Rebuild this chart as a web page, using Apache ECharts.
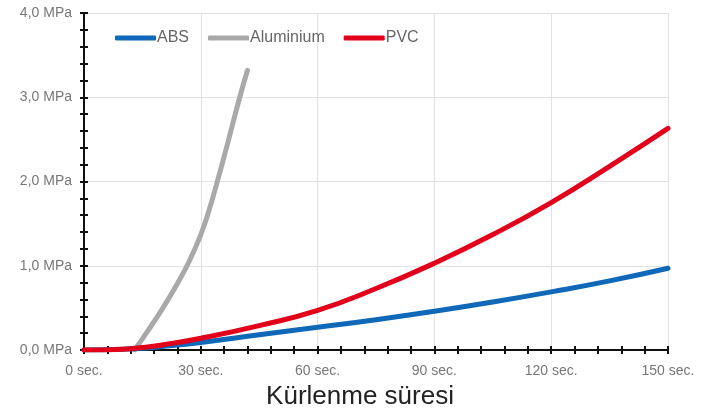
<!DOCTYPE html>
<html>
<head>
<meta charset="utf-8">
<script src="https://cdn.jsdelivr.net/npm/echarts@6/dist/echarts.min.js"></script>
<style>
  html, body { margin: 0; padding: 0; background: #fff; }
  #chart { width: 714px; height: 414px; }
</style>
</head>
<body>
<div id="chart"></div>
<script>
// seconds / MPa
const absTime = [0, 10, 15, 20, 30, 45, 60, 75, 90, 105, 120, 135, 150];
const absMpa = [0, 0.01, 0.02, 0.04, 0.09, 0.18, 0.27, 0.36, 0.46, 0.57, 0.69, 0.82, 0.97];

const aluTime = [13, 16, 20, 24, 27, 30, 32, 34, 37, 40, 42];
const aluMpa = [0, 0.2, 0.48, 0.79, 1.05, 1.37, 1.64, 1.96, 2.47, 3.0, 3.32];

const pvcTime = [0, 10, 15, 20, 30, 45, 60, 75, 90, 105, 120, 135, 150];
const pvcMpa = [0, 0.01, 0.03, 0.06, 0.14, 0.29, 0.47, 0.73, 1.03, 1.37, 1.75, 2.18, 2.63];

const seriesNames = ['ABS', 'Aluminium', 'PVC'];
const xTitle = 'Kürlenme süresi';

const pairs = (xs, ys) => xs.map((x, i) => [x, ys[i]]);

const chart = echarts.init(document.getElementById('chart'));

const font = '"Liberation Sans", Arial, sans-serif';
const tickLine = { color: '#111', width: 2 };

const baseY = {
  type: 'value',
  min: 0,
  max: 4,
  interval: 1,
  position: 'left'
};
const baseX = {
  type: 'value',
  min: 0,
  max: 150,
  interval: 30,
  position: 'bottom'
};

const option = {
  animation: false,
  textStyle: { fontFamily: font },
  grid: { left: 84, right: 46, top: 13, bottom: 64, containLabel: false, outerBoundsMode: 'none' },
  legend: {
    left: 110,
    top: 25,
    icon: 'roundRect',
    itemWidth: 41,
    itemHeight: 5,
    itemGap: 19,
    textStyle: { color: '#666', fontSize: 16, fontFamily: font, padding: [0, 0, 0, -4] },
    data: seriesNames
  },
  xAxis: [
    Object.assign({}, baseX, {
      axisLine: { lineStyle: tickLine },
      axisTick: { show: true, length: 4, lineStyle: tickLine },
      minorTick: { show: true, splitNumber: 5, length: 4, lineStyle: tickLine },
      axisLabel: {
        color: '#777', fontSize: 14, margin: 14,
        formatter: v => v + ' sec.'
      },
      splitLine: { show: true, lineStyle: { color: '#e2e2e2', width: 1 } },
      name: xTitle,
      nameLocation: 'middle',
      nameGap: 34,
      nameTextStyle: { color: '#222', fontSize: 26, fontFamily: font, padding: [0, 32, 0, 0] }
    }),
    Object.assign({}, baseX, {
      axisLine: { show: false },
      axisTick: { show: true, inside: true, length: 4, lineStyle: tickLine },
      minorTick: { show: true, splitNumber: 5, length: 4, lineStyle: tickLine },
      axisLabel: { show: false },
      splitLine: { show: false }
    })
  ],
  yAxis: [
    Object.assign({}, baseY, {
      axisLine: { show: true, lineStyle: tickLine },
      axisTick: { show: true, length: 4, lineStyle: tickLine },
      minorTick: { show: true, splitNumber: 5, length: 4, lineStyle: tickLine },
      axisLabel: {
        color: '#777', fontSize: 14, margin: 12,
        formatter: v => v.toFixed(1).replace('.', ',') + ' MPa'
      },
      splitLine: { show: true, lineStyle: { color: '#e2e2e2', width: 1 } }
    }),
    Object.assign({}, baseY, {
      axisLine: { show: false },
      axisTick: { show: true, inside: true, length: 4, lineStyle: tickLine },
      minorTick: { show: true, splitNumber: 5, length: 4, lineStyle: tickLine },
      axisLabel: { show: false },
      splitLine: { show: false }
    })
  ],
  series: [
    {
      name: 'ABS', type: 'line', smooth: 0.5, symbol: 'none',
      data: pairs(absTime, absMpa),
      itemStyle: { color: '#0f68b8' },
      lineStyle: { color: '#0f68b8', width: 5, cap: 'round' },
      z: 3
    },
    {
      name: 'Aluminium', type: 'line', smooth: 0.5, symbol: 'none',
      data: pairs(aluTime, aluMpa),
      itemStyle: { color: '#a9a9a9' },
      lineStyle: { color: '#a9a9a9', width: 5, cap: 'round' },
      z: 2
    },
    {
      name: 'PVC', type: 'line', smooth: 0.5, symbol: 'none',
      data: pairs(pvcTime, pvcMpa),
      itemStyle: { color: '#e3001b' },
      lineStyle: { color: '#e3001b', width: 5, cap: 'round' },
      z: 4
    }
  ]
};

chart.setOption(option);
</script>
</body>
</html>
